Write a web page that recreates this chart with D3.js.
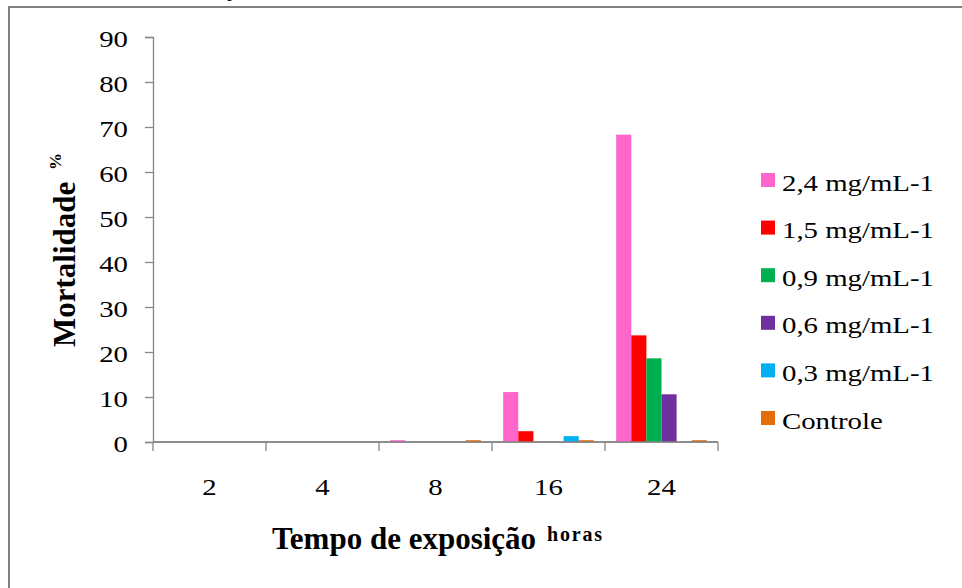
<!DOCTYPE html>
<html>
<head>
<meta charset="utf-8">
<script src="https://cdn.jsdelivr.net/npm/d3@7/dist/d3.min.js"></script>
<style>
  html, body { margin: 0; padding: 0; background: #ffffff; }
  svg { display: block; }
  text { font-family: "Liberation Serif", "Times New Roman", serif; fill: #000; }
</style>
</head>
<body>
<svg id="chart" width="962" height="588"></svg>
<script>
// Exposure times (hours) on the x axis
const categories = ["2", "4", "8", "16", "24"];

// Concentration series, legend order
const seriesNames = ["2,4 mg/mL-1", "1,5 mg/mL-1", "0,9 mg/mL-1", "0,6 mg/mL-1", "0,3 mg/mL-1", "Controle"];
const seriesColors = ["#FF66CC", "#FF0000", "#00B050", "#7030A0", "#00B0F0", "#E46C0A"];

// Mortality (%) per exposure time, one array per series
const dose24 = [0, 0, 0.4, 11.1, 68.3];
const dose15 = [0, 0, 0, 2.4, 23.7];
const dose09 = [0, 0, 0, 0, 18.6];
const dose06 = [0, 0, 0, 0, 10.6];
const dose03 = [0, 0, 0, 1.3, 0];
const controle = [0, 0, 0.4, 0.4, 0.4];

const yTicks = [0, 10, 20, 30, 40, 50, 60, 70, 80, 90];

const seriesValues = [dose24, dose15, dose09, dose06, dose03, controle];

const SERIF = "'Liberation Serif', 'Times New Roman', serif";
const svg = d3.select("#chart");

// outer frame of the figure
svg.append("path")
  .attr("d", "M9,600 L9,7 L970,7")
  .attr("fill", "none")
  .attr("stroke", "#808080")
  .attr("stroke-width", 2);

// tail of the caption line above the frame
svg.append("text")
  .attr("x", 227).attr("y", -4)
  .attr("font-family", SERIF)
  .style("font-size", "20px")
  .text("p");

const plot = { left: 153, right: 718, top: 37, bottom: 442 };

const x = d3.scaleBand()
  .domain(categories)
  .range([plot.left, plot.right])
  .paddingInner(0).paddingOuter(0);

const xInner = d3.scaleBand()
  .domain(seriesNames)
  .range([0, x.bandwidth()])
  .paddingInner(0)
  .paddingOuter(0.74);

const y = d3.scaleLinear().domain([0, 90]).range([plot.bottom, plot.top]);

const axisColor = "#868686";
const stretch = 1.2;

// y axis
const yAxis = svg.append("g").attr("transform", `translate(${plot.left},0)`)
  .call(d3.axisLeft(y).tickValues(yTicks).tickSize(8).tickPadding(0).tickFormat(d3.format("d")));
yAxis.attr("font-family", SERIF);
yAxis.select(".domain").attr("stroke", axisColor).attr("stroke-width", 1.3);
yAxis.selectAll(".tick line").attr("stroke", axisColor).attr("stroke-width", 1.3);
yAxis.selectAll(".tick text").each(function() {
  d3.select(this)
   .attr("x", null).attr("dy", null)
   .attr("text-anchor", "end")
   .attr("transform", `translate(-25,9.5) scale(${stretch},1)`)
   .attr("font-family", SERIF)
   .style("font-size", "24px")
   .attr("fill", "#000");
});

// x axis baseline with ticks at category boundaries
const xAxis = svg.append("g");
xAxis.append("line")
  .attr("x1", plot.left).attr("x2", plot.right)
  .attr("y1", plot.bottom).attr("y2", plot.bottom)
  .attr("stroke", axisColor).attr("stroke-width", 1.3);
const bounds = categories.map(c => x(c)).concat([x(categories[categories.length - 1]) + x.bandwidth()]);
xAxis.selectAll("line.tk").data(bounds).join("line")
  .attr("class", "tk")
  .attr("x1", d => d).attr("x2", d => d)
  .attr("y1", plot.bottom).attr("y2", plot.bottom + 9)
  .attr("stroke", axisColor).attr("stroke-width", 1.3);
xAxis.selectAll("text").data(categories).join("text")
  .attr("text-anchor", "middle")
  .attr("font-family", SERIF)
  .attr("transform", d => `translate(${x(d) + x.bandwidth() / 2},495) scale(${stretch},1)`)
  .style("font-size", "24px")
  .text(d => d);

// bars
const groups = svg.append("g").selectAll("g")
  .data(categories)
  .join("g")
  .attr("transform", d => `translate(${x(d)},0)`);

groups.selectAll("rect")
  .data((c, ci) => seriesNames.map((s, si) => ({ s, si, v: seriesValues[si][ci] })))
  .join("rect")
  .attr("x", d => xInner(d.s))
  .attr("width", xInner.bandwidth())
  .attr("y", d => y(d.v))
  .attr("height", d => y(0) - y(d.v))
  .attr("fill", d => seriesColors[d.si]);

// redraw baseline over bar bottoms
svg.append("line")
  .attr("x1", plot.left).attr("x2", plot.right)
  .attr("y1", plot.bottom).attr("y2", plot.bottom)
  .attr("stroke", axisColor).attr("stroke-width", 1.3);

// legend
const legend = svg.append("g").attr("transform", "translate(761,180)");
const rowGap = 47.6;
const items = legend.selectAll("g").data(seriesNames).join("g")
  .attr("transform", (d, i) => `translate(0,${i * rowGap})`);
items.append("rect")
  .attr("x", 0).attr("y", -7).attr("width", 14).attr("height", 14)
  .attr("fill", (d, i) => seriesColors[i]);
items.append("text")
  .attr("font-family", SERIF)
  .attr("transform", `translate(21,10.5) scale(${stretch},1)`)
  .style("font-size", "24px")
  .text(d => d);

// x axis title
svg.append("text")
  .attr("x", 272).attr("y", 549)
  .attr("font-family", SERIF)
  .style("font-size", "31px")
  .style("font-weight", "bold")
  .text("Tempo de exposição");
svg.append("text")
  .attr("x", 547).attr("y", 541)
  .attr("font-family", SERIF)
  .attr("textLength", 55).attr("lengthAdjust", "spacing")
  .style("font-size", "20px")
  .style("font-weight", "bold")
  .text("horas");

// y axis title
const yt = svg.append("g").attr("transform", "translate(75,347) rotate(-90)");
yt.append("text")
  .attr("x", 0).attr("y", 0)
  .attr("font-family", SERIF)
  .style("font-size", "31px")
  .style("font-weight", "bold")
  .text("Mortalidade");
yt.append("text")
  .attr("x", 177).attr("y", -14)
  .attr("font-family", SERIF)
  .style("font-size", "17px")
  .style("font-weight", "bold")
  .text("%");
</script>
</body>
</html>
